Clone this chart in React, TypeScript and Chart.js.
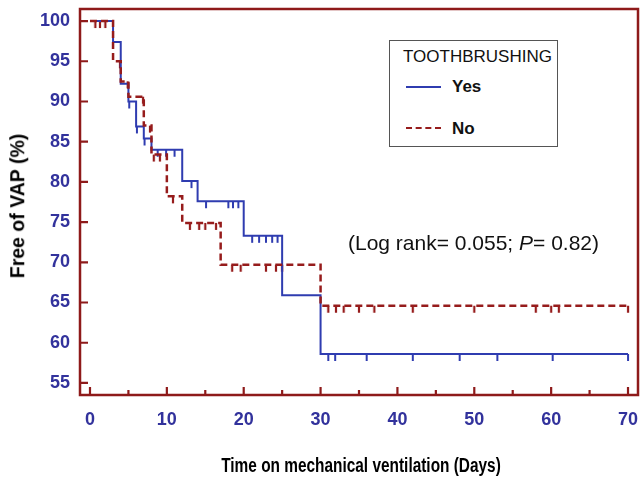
import React, { useEffect, useRef } from "react";
import { Chart, registerables } from "chart.js";

Chart.register(...registerables);

// ---- data ----
const yesDays = [0, 3, 4, 5, 6, 7, 8, 12, 14, 20, 25, 30, 70];
const yesFree = [100, 97.4, 92.2, 90.0, 86.9, 85.4, 84.0, 80.1, 77.6, 73.3, 65.9, 58.6, 58.6];
const yesCensored = [5.1, 6.1, 7.1, 8.8, 9.9, 11, 13.2, 15.1, 18.0, 18.6, 19.3, 21.1, 22, 22.9, 23.7, 24.4, 31, 31.9, 36, 42, 48.1, 53, 60.2, 70];

const noDays = [0, 3, 4, 5, 7, 8, 10, 12, 17, 30, 70];
const noFree = [100, 95.0, 92.5, 90.6, 87.0, 83.4, 78.2, 74.9, 69.7, 64.6, 64.6];
const noCensored = [0.7, 1.3, 2.0, 3.9, 4.9, 6.9, 7.8, 8.3, 9.1, 10.8, 13, 14.2, 15, 16.4, 18.5, 19.6, 22.9, 24.2, 25, 31, 32, 33, 35, 37, 42, 50, 58, 60, 61, 70];

const xTickValues = [0, 10, 20, 30, 40, 50, 60, 70];
const xMinorTickValues = [5, 15, 25, 35, 45, 55, 65];
const yTickValues = [55, 60, 65, 70, 75, 80, 85, 90, 95, 100];

const seriesLabels = ["Yes", "No"];
const legendTitle = "TOOTHBRUSHING";
const xTitle = "Time on mechanical ventilation (Days)";
const yTitle = "Free of VAP (%)";

const BLUE = "#2f3cb0";
const RED = "#961c1c";
const FRAME = "#8e1a1a";
const TICK_BLUE = "#32329c";
const FONT = "'Liberation Sans', Arial, sans-serif";

function levelAt(days: number[], vals: number[], t: number) {
  let v = vals[0];
  for (let i = 0; i < days.length; i++) if (days[i] <= t) v = vals[i];
  return v;
}

function censorMark(color: string, w: number) {
  const c = document.createElement("canvas");
  c.width = 4;
  c.height = 18;
  const g = c.getContext("2d")!;
  g.strokeStyle = color;
  g.lineWidth = w;
  g.beginPath();
  g.moveTo(2, 9);
  g.lineTo(2, 16);
  g.stroke();
  return c;
}

const framePlugin = {
  id: "frameTicks",
  beforeDatasetsDraw(chart: any) {
    const { ctx, chartArea: a, scales } = chart;
    const xs = scales.x;
    const ys = scales.y;
    ctx.save();
    ctx.strokeStyle = FRAME;
    ctx.lineWidth = 2.5;
    ctx.strokeRect(a.left, a.top, a.right - a.left, a.bottom - a.top);
    ctx.lineWidth = 2.2;
    ctx.beginPath();
    yTickValues.forEach((v) => {
      const y = ys.getPixelForValue(v);
      ctx.moveTo(a.left, y);
      ctx.lineTo(a.left + 8, y);
    });
    xTickValues.forEach((v) => {
      const x = xs.getPixelForValue(v);
      ctx.moveTo(x, a.bottom);
      ctx.lineTo(x, a.bottom - 8);
    });
    xMinorTickValues.forEach((v) => {
      const x = xs.getPixelForValue(v);
      ctx.moveTo(x, a.bottom);
      ctx.lineTo(x, a.bottom - 5);
    });
    ctx.stroke();
    ctx.restore();
  },
};

export default function App() {
  const ref = useRef<HTMLCanvasElement | null>(null);

  useEffect(() => {
    if (!ref.current) return;
    const blueMark = censorMark(BLUE, 2);
    const redMark = censorMark(RED, 2.2);
    const chart = new Chart(ref.current, {
      type: "line",
      data: {
        datasets: [
          {
            label: seriesLabels[1],
            data: noDays.map((d, i) => ({ x: d, y: noFree[i] })),
            borderColor: RED,
            borderWidth: 2.5,
            borderDash: [7, 4],
            stepped: "before",
            pointRadius: 0,
            fill: false,
          },
          {
            label: seriesLabels[0],
            data: yesDays.map((d, i) => ({ x: d, y: yesFree[i] })),
            borderColor: BLUE,
            borderWidth: 2,
            stepped: "before",
            pointRadius: 0,
            fill: false,
          },
          {
            label: "No censored",
            data: noCensored.map((t) => ({ x: t, y: levelAt(noDays, noFree, t) })),
            showLine: false,
            pointStyle: redMark as any,
            pointRadius: 5,
          },
          {
            label: "Yes censored",
            data: yesCensored.map((t) => ({ x: t, y: levelAt(yesDays, yesFree, t) })),
            showLine: false,
            pointStyle: blueMark as any,
            pointRadius: 5,
          },
        ],
      },
      options: {
        animation: false,
        responsive: false,
        devicePixelRatio: 1,
        layout: { padding: { left: 0, right: 3, top: 9, bottom: 0 } },
        plugins: { legend: { display: false }, tooltip: { enabled: false } },
        scales: {
          x: {
            type: "linear",
            min: -1.3,
            max: 71.3,
            afterBuildTicks: (s: any) => {
              s.ticks = xTickValues.map((v) => ({ value: v }));
            },
            afterFit: (s: any) => {
              s.height = 93;
              s.paddingLeft = 0;
              s.paddingRight = 0;
            },
            grid: { display: false, drawTicks: false },
            border: { display: false },
            ticks: {
              color: TICK_BLUE,
              font: { family: FONT, size: 18, weight: "bold" },
              padding: 14,
              maxRotation: 0,
            },
            title: { display: false },
          },
          y: {
            type: "linear",
            min: 53.5,
            max: 101.5,
            afterBuildTicks: (s: any) => {
              s.ticks = yTickValues.map((v) => ({ value: v }));
            },
            afterFit: (s: any) => {
              s.width = 80;
              s.paddingTop = 0;
              s.paddingBottom = 0;
            },
            grid: { display: false, drawTicks: false },
            border: { display: false },
            ticks: {
              color: TICK_BLUE,
              font: { family: FONT, size: 18, weight: "bold" },
              padding: 10,
            },
            title: { display: false },
          },
        },
      },
      plugins: [framePlugin],
    });
    return () => chart.destroy();
  }, []);

  return (
    <div style={{ position: "fixed", left: 0, top: 0, width: 644, height: 488, background: "#fff", fontFamily: FONT }}>
      <canvas ref={ref} width={644} height={488} style={{ display: "block" }} />
      <div
        style={{
          position: "absolute",
          left: 361,
          top: 466,
          transform: "translate(-50%, -50%) scaleX(0.79)",
          fontSize: 19.5,
          fontWeight: "bold",
          color: "#000",
          whiteSpace: "nowrap",
          lineHeight: 1,
        }}
      >
        {xTitle}
      </div>
      <div
        style={{
          position: "absolute",
          left: 18,
          top: 206,
          transform: "translate(-50%, -50%) rotate(-90deg)",
          fontSize: 19.5,
          fontWeight: "bold",
          color: "#000",
          whiteSpace: "nowrap",
          lineHeight: 1,
        }}
      >
        {yTitle}
      </div>
      <div
        style={{
          position: "absolute",
          left: 389,
          top: 40,
          width: 169,
          height: 107,
          border: "1px solid #555",
          boxSizing: "border-box",
          background: "#fff",
        }}
      >
        <div style={{ position: "absolute", left: 13, top: 6, fontSize: 17, color: "#111", whiteSpace: "nowrap" }}>
          {legendTitle}
        </div>
        <div style={{ position: "absolute", left: 16, top: 45, width: 35, borderTop: `2px solid ${BLUE}` }} />
        <div style={{ position: "absolute", left: 62, top: 36, fontSize: 17, fontWeight: "bold", color: "#111" }}>
          {seriesLabels[0]}
        </div>
        <div style={{ position: "absolute", left: 16, top: 86, width: 35, borderTop: `2px dashed ${RED}` }} />
        <div style={{ position: "absolute", left: 62, top: 78, fontSize: 17, fontWeight: "bold", color: "#111" }}>
          {seriesLabels[1]}
        </div>
      </div>
      <div style={{ position: "absolute", left: 348, top: 231, fontSize: 21, color: "#111", whiteSpace: "nowrap" }}>
        (Log rank= 0.055; <i>P</i>= 0.82)
      </div>
    </div>
  );
}
